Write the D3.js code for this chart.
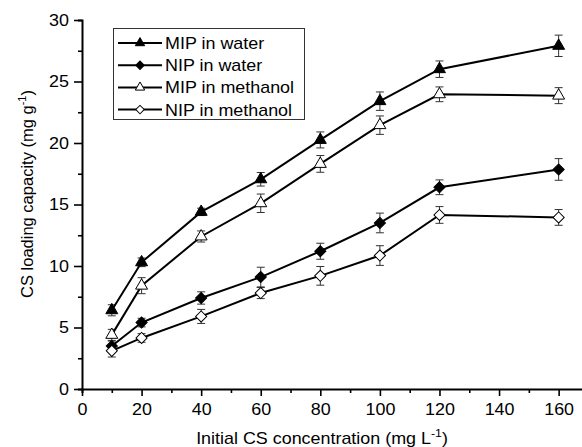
<!DOCTYPE html>
<html>
<head>
<meta charset="utf-8">
<script src="https://cdn.jsdelivr.net/npm/d3@7"></script>
<style>
body{margin:0;background:#fff;}
svg text{font-family:"Liberation Sans",Arial,sans-serif;fill:#000;}
</style>
</head>
<body>
<svg width="582" height="447"></svg>
<script>
//数据
var conc=[10,20,40,60,80,100,120,160];
var mipWater=[6.4,10.3,14.4,17.05,20.25,23.4,26.0,27.9];
var mipWaterErr=[0.45,0.35,0.3,0.55,0.65,0.75,0.67,0.87];
var nipWater=[3.5,5.4,7.4,9.1,11.2,13.5,16.4,17.85];
var nipWaterErr=[0.4,0.35,0.5,0.8,0.65,0.8,0.6,0.88];
var mipMeth=[4.4,8.4,12.4,15.1,18.3,21.45,23.96,23.85];
var mipMethErr=[0.45,0.65,0.45,0.75,0.68,0.75,0.6,0.65];
var nipMeth=[3.1,4.15,5.9,7.8,9.2,10.85,14.15,13.95];
var nipMethErr=[0.5,0.35,0.57,0.45,0.76,0.8,0.68,0.64];
var seriesNames=["MIP in water","NIP in water","MIP in methanol","NIP in methanol"];
var xTicks=[0,20,40,60,80,100,120,140,160];
var yTicks=[0,5,10,15,20,25,30];

var series=[
	{name:seriesNames[0],v:mipWater,e:mipWaterErr,shape:"tri",fill:"#000"},
	{name:seriesNames[1],v:nipWater,e:nipWaterErr,shape:"dia",fill:"#000"},
	{name:seriesNames[2],v:mipMeth,e:mipMethErr,shape:"tri",fill:"#fff"},
	{name:seriesNames[3],v:nipMeth,e:nipMethErr,shape:"dia",fill:"#fff"}
];
var sx=1.12; //文字横向拉伸

var svg=d3.select("svg");
//比例尺
var x=d3.scaleLinear().domain([0,170]).range([82,82+170*2.979]);
var y=d3.scaleLinear().domain([0,30]).range([389,20]);

//x坐标轴
var gx=svg.append("g").attr("transform","translate(0,389)");
gx.call(d3.axisBottom(x).tickValues(d3.range(10,171,20)).tickSize(4).tickFormat(""));
gx.append("g").call(d3.axisBottom(x).tickValues(xTicks).tickSize(7).tickPadding(8));
gx.selectAll("path").attr("stroke","#000").attr("stroke-width",2);
gx.selectAll("line").attr("stroke","#000").attr("stroke-width",1.6);
gx.selectAll("text").style("font-size","16px").attr("fill","#000").attr("transform","scale("+sx+",1)");
gx.selectAll("g g path").remove();

//y坐标轴
var gy=svg.append("g").attr("transform","translate(82,0)");
gy.call(d3.axisLeft(y).tickValues(d3.range(2.5,30,5)).tickSize(4).tickFormat(""));
gy.append("g").call(d3.axisLeft(y).tickValues(yTicks).tickSize(8).tickPadding(5));
gy.selectAll("path").attr("stroke","#000").attr("stroke-width",2);
gy.selectAll("line").attr("stroke","#000").attr("stroke-width",1.6);
gy.selectAll("text").style("font-size","16px").attr("fill","#000")
	.attr("x",-13/sx).attr("transform","scale("+sx+",1)");
gy.selectAll("g g path").remove();

//坐标轴标题
var xt=svg.append("text").attr("transform","translate(322,444) scale("+sx+",1)").attr("text-anchor","middle").style("font-size","16px");
xt.append("tspan").text("Initial CS concentration (mg L");
xt.append("tspan").attr("dy",-7).style("font-size","11px").text("-1");
xt.append("tspan").attr("dy",7).text(")");
var yt=svg.append("text").attr("transform","translate(33,194) rotate(-90)").attr("text-anchor","middle").style("font-size","16.5px");
yt.append("tspan").text("CS loading capacity (mg g");
yt.append("tspan").attr("dy",-7).style("font-size","11px").text("-1");
yt.append("tspan").attr("dy",7).text(")");

//标记形状
var sym={tri:d3.symbol().type(d3.symbolTriangle).size(62),dia:d3.symbol().type(d3.symbolSquare).size(62)};
var symL={tri:d3.symbol().type(d3.symbolTriangle).size(38),dia:d3.symbol().type(d3.symbolSquare).size(36)};
var rot=function(s){return s=="dia"?" rotate(45)":"";};
var line=d3.line().x(function(d,i){return x(conc[i]);}).y(function(d){return y(d);});

series.forEach(function(s){
	//误差棒
	var eb=svg.append("g").attr("stroke","#333").attr("stroke-width",1);
	s.v.forEach(function(v,i){
		var cx=x(conc[i]);
		eb.append("line").attr("x1",cx).attr("x2",cx).attr("y1",y(v-s.e[i])).attr("y2",y(v+s.e[i]));
		[v-s.e[i],v+s.e[i]].forEach(function(w){
			eb.append("line").attr("x1",cx-4).attr("x2",cx+4).attr("y1",y(w)).attr("y2",y(w));
		});
	});
	svg.append("path").datum(s.v).attr("fill","none").attr("stroke","#000").attr("stroke-width",2).attr("d",line);
});
series.forEach(function(s){
	svg.append("g").selectAll("path").data(s.v).enter().append("path")
		.attr("transform",function(d,i){return "translate("+x(conc[i])+","+y(d)+")"+rot(s.shape);})
		.attr("d",sym[s.shape]).attr("fill",s.fill).attr("stroke","#000").attr("stroke-width",1);
});

//图例
var lg=svg.append("g");
lg.append("rect").attr("x",113.5).attr("y",28.5).attr("width",191).attr("height",91).attr("fill","#fff").attr("stroke","#333").attr("stroke-width",1);
series.forEach(function(s,i){
	var ly=43+i*22.2;
	lg.append("line").attr("x1",118).attr("x2",162).attr("y1",ly).attr("y2",ly).attr("stroke","#000").attr("stroke-width",2);
	lg.append("path").attr("transform","translate(140,"+ly+")"+rot(s.shape)).attr("d",symL[s.shape]).attr("fill",s.fill).attr("stroke","#000");
	lg.append("text").attr("transform","translate(165,"+(ly+6)+") scale("+sx+",1)").style("font-size","16px").text(s.name);
});
</script>
</body>
</html>
